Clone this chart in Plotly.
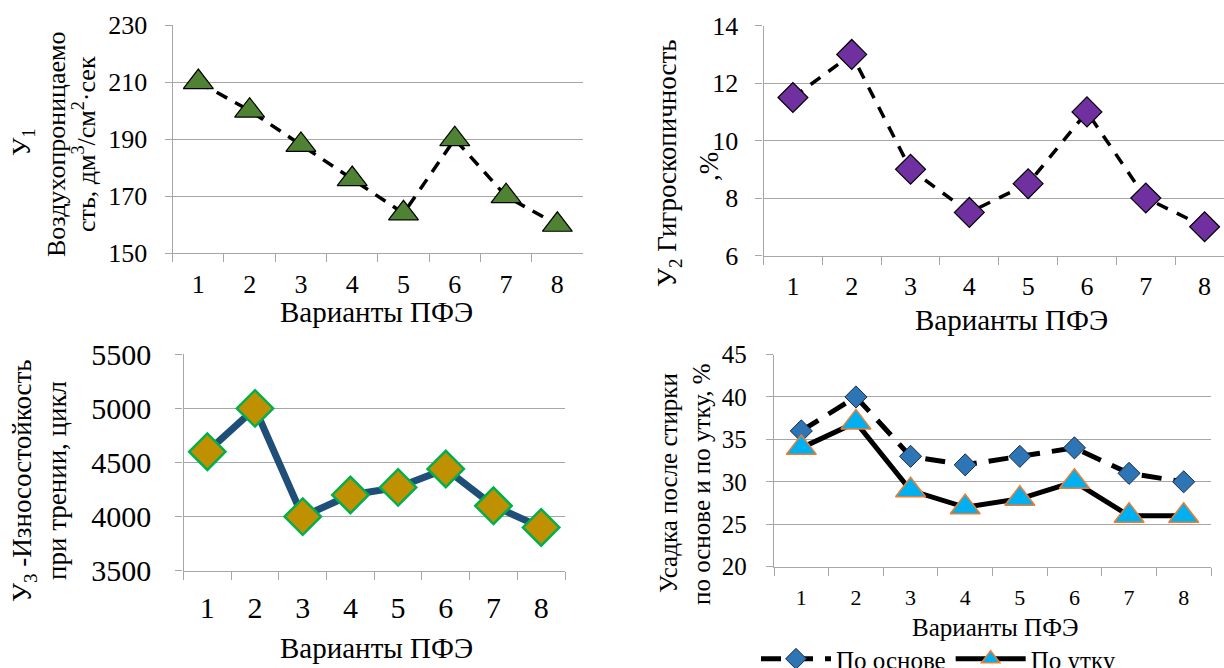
import plotly.graph_objects as go

W, H = 1224, 668
FONT = "Liberation Serif, Times New Roman, serif"
GRID = "#A6A6A6"

variants = ["1", "2", "3", "4", "5", "6", "7", "8"]
y1_air = [210, 200, 188, 176, 164, 190, 170, 160]
y2_hygro = [11.5, 13, 9, 7.5, 8.5, 11, 8, 7]
y3_wear = [4600, 5000, 4000, 4200, 4270, 4440, 4100, 3900]
shrink_warp = [36, 40, 33, 32, 33, 34, 31, 30]
shrink_weft = [34, 37, 29, 27, 28, 30, 26, 26]

x_title = "Варианты ПФЭ"


def px(x):
    return x / W


def py(y):
    return 1 - y / H


fig = go.Figure()

fig.add_trace(go.Scatter(
    x=variants, y=y1_air, xaxis="x", yaxis="y", mode="lines+markers",
    line=dict(color="black", width=3.5, dash="12px,9px"),
    marker=dict(symbol="triangle-up", size=26, color="#4F8233",
                line=dict(color="black", width=1.2)),
    showlegend=False, cliponaxis=False))

fig.add_trace(go.Scatter(
    x=variants, y=y2_hygro, xaxis="x2", yaxis="y2", mode="lines+markers",
    line=dict(color="black", width=3.5, dash="12px,10px"),
    marker=dict(symbol="diamond", size=23, color="#7030A0",
                line=dict(color="black", width=1.2)),
    showlegend=False, cliponaxis=False))

fig.add_trace(go.Scatter(
    x=variants, y=y3_wear, xaxis="x3", yaxis="y3", mode="lines+markers",
    line=dict(color="#1F4E79", width=7),
    marker=dict(symbol="diamond", size=28, color="#BF9000",
                line=dict(color="#00B050", width=2.5)),
    showlegend=False, cliponaxis=False))

fig.add_trace(go.Scatter(
    x=variants, y=shrink_warp, xaxis="x4", yaxis="y4", mode="lines+markers",
    name="По основе",
    line=dict(color="black", width=5, dash="20px,12px"),
    marker=dict(symbol="diamond", size=17, color="#2E75B6",
                line=dict(color="#1F2A44", width=1)),
    showlegend=True, cliponaxis=False))
fig.add_trace(go.Scatter(
    x=variants, y=shrink_weft, xaxis="x4", yaxis="y4", mode="lines+markers",
    name="По утку",
    line=dict(color="black", width=5),
    marker=dict(symbol="triangle-up", size=26, color="#00B0F0",
                line=dict(color="#ED7D31", width=1.5)),
    showlegend=True, cliponaxis=False))


def xaxis(domain, tickfont, standoff, rng=(-0.5, 7.5)):
    return dict(domain=domain, type="category", range=list(rng),
                showgrid=False, showline=True, linecolor=GRID, linewidth=1.3,
                ticks="outside", tickson="boundaries", ticklen=8,
                tickcolor=GRID, tickwidth=1.3,
                tickfont=dict(family=FONT, size=tickfont, color="black"),
                ticklabelstandoff=standoff, zeroline=False, fixedrange=True,
                automargin=False)


def yaxis(domain, anchor, rng, dtick, tickfont, standoff):
    return dict(domain=domain, anchor=anchor, range=rng, dtick=dtick,
                tick0=rng[0], showgrid=True, gridcolor=GRID, gridwidth=1.3,
                showline=True, linecolor=GRID, linewidth=1.3,
                ticks="outside", ticklen=7, tickcolor=GRID, tickwidth=1.3,
                tickfont=dict(family=FONT, size=tickfont, color="black"),
                ticklabelstandoff=standoff, zeroline=False, fixedrange=True,
                automargin=False)


p1 = (172.7, 583.0, 25.0, 253.3)
p2 = (763.5, 1224.0, 25.7, 255.5)
p3 = (183.5, 565.0, 354.3, 570.7)
p4 = (774.0, 1211.0, 354.5, 566.7)

r2 = 7.5 - (1234.0 - 1224.0) / 58.8

fig.update_layout(
    width=W, height=H,
    margin=dict(l=0, r=0, t=0, b=0, pad=0, autoexpand=False),
    paper_bgcolor="white", plot_bgcolor="white",
    font=dict(family=FONT, color="black"),
    xaxis=xaxis([px(p1[0]), px(p1[1])], 26, 7) | dict(anchor="y"),
    yaxis=yaxis([py(p1[3]), py(p1[2])], "x", [150, 230], 20, 26, 12),
    xaxis2=xaxis([px(p2[0]), px(p2[1])], 26, 7, (-0.5, r2)) | dict(anchor="y2"),
    yaxis2=yaxis([py(p2[3]), py(p2[2])], "x2", [6, 14], 2, 26, 12),
    xaxis3=xaxis([px(p3[0]), px(p3[1])], 30, 10) | dict(anchor="y3"),
    yaxis3=yaxis([py(p3[3]), py(p3[2])], "x3", [3500, 5500], 500, 30, 18),
    xaxis4=xaxis([px(p4[0]), px(p4[1])], 22, 11) | dict(anchor="y4"),
    yaxis4=yaxis([py(p4[3]), py(p4[2])], "x4", [20, 45], 5, 25, 14),
    legend=dict(orientation="h", x=px(756), xanchor="left",
                y=py(659), yanchor="middle",
                font=dict(family=FONT, size=25, color="black"),
                bgcolor="rgba(0,0,0,0)", itemwidth=70,
                tracegroupgap=0),
)


def ann(text, x, y, size, angle=0):
    fig.add_annotation(text=text, x=px(x), y=py(y), xref="paper", yref="paper",
                       xanchor="center", yanchor="middle", showarrow=False,
                       textangle=angle,
                       font=dict(family=FONT, size=size, color="black"))


# x titles
ann(x_title, 376, 312, 29)
ann(x_title, 1012, 320, 29)
ann(x_title, 376, 648, 29)
ann(x_title, 995, 627, 25)

# y titles (one annotation per line)
ann("У<sub>1</sub>", 23, 142, 26, -90)
ann("Воздухопроницаемо", 56, 144, 26, -90)
ann("сть, дм<sup>3</sup>/см<sup>2</sup>·сек", 84, 144, 26, -90)
ann("У<sub>2</sub> Гигроскопичность", 669, 163, 27, -90)
ann(",%", 709, 167, 27, -90)
ann("У<sub>3</sub> -Износостойкость", 24, 481, 27, -90)
ann("при трении, цикл", 57, 481, 27, -90)
ann("Усадка после стирки", 669, 483, 25, -90)
ann("по основе и по утку, %", 701, 484, 25, -90)

fig.write_html("out.html", config={"displayModeBar": False},
               post_script="document.body.style.margin='0';document.body.style.overflow='hidden';")
